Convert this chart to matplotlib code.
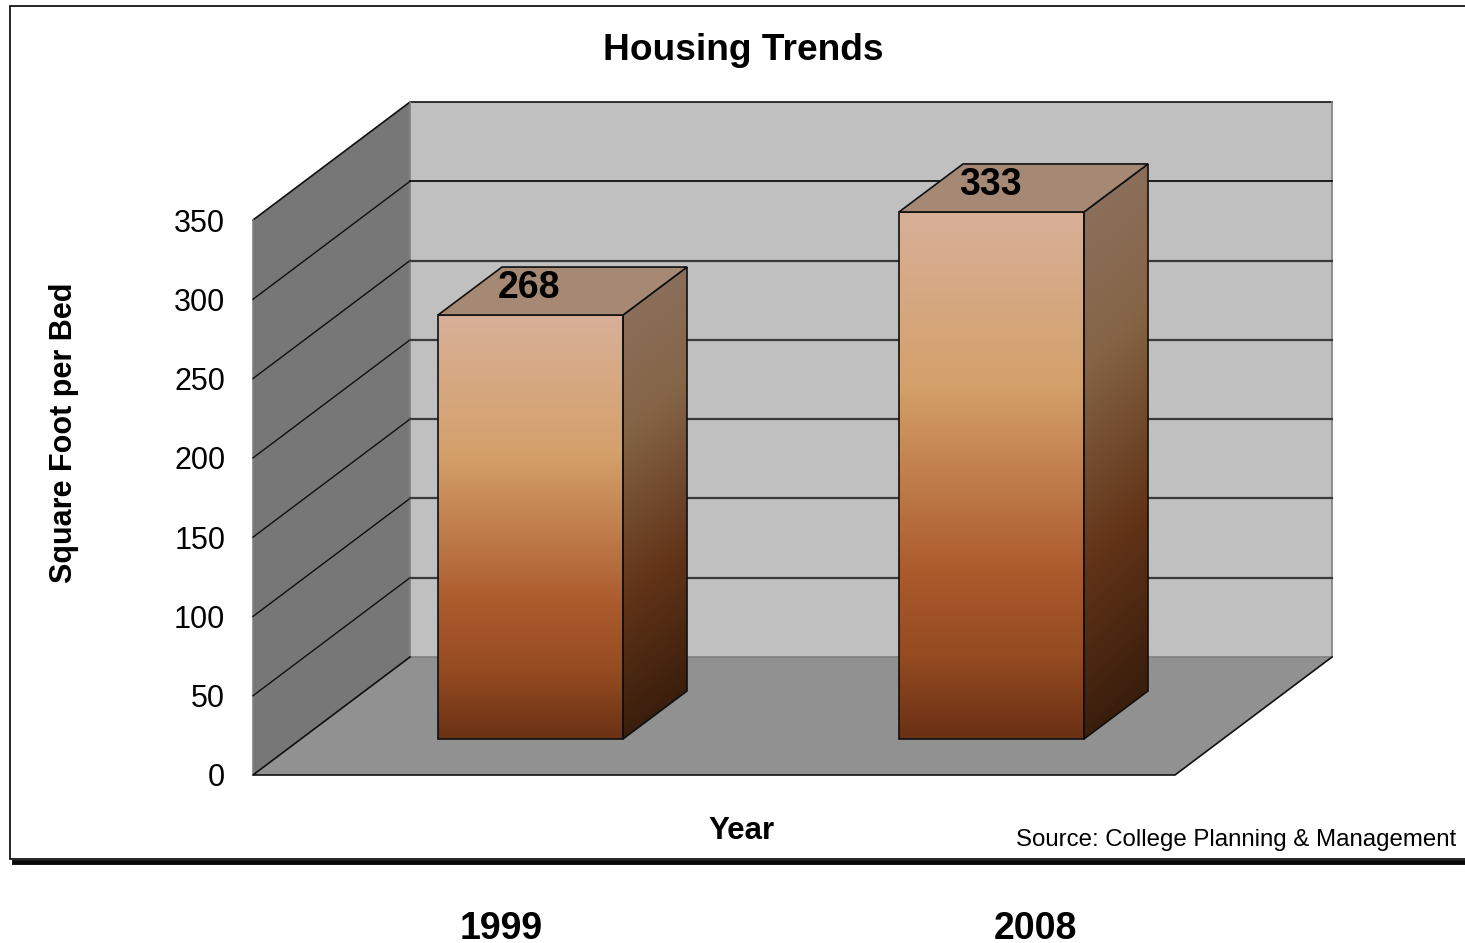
import numpy as np
import matplotlib
matplotlib.use('Agg')
import matplotlib.pyplot as plt
from matplotlib.patches import Polygon, Rectangle

plt.rcParams['font.family'] = ['Liberation Sans', 'DejaVu Sans']

years = ['1999', '2008']
values = [268, 333]
y_ticks = [0, 50, 100, 150, 200, 250, 300, 350]
title = 'Housing Trends'
x_title = 'Year'
y_title = 'Square Foot per Bed'
source = 'Source: College Planning & Management'

W, H = 1465, 943
# plot box in pixels, front plane of the 3d box
left, right, bottom, top = 253, 1175, 775, 220
sx = 2 / (right - left)
sy = 350 / (bottom - top)

# depth of the box and of the bars, in data units
box_dx, box_dy = 157 * sx, 118 * sy
bar_dx, bar_dy = 64 * sx, 48 * sy
off_dx, off_dy = 47 * sx, 36 * sy
bar_w = 185 * sx

front_stops = [(0, (106, 49, 21)), (0.16, (150, 75, 33)), (0.32, (172, 91, 45)),
               (0.67, (212, 160, 106)), (1, (216, 176, 152))]
side_stops = [(0, (58, 30, 12)), (0.3, (98, 52, 24)), (0.65, (133, 100, 70)),
              (1, (142, 115, 98))]


def gradient(stops, slant=0.0):
    # slant tilts the gradient so it gets darker to the right
    pos = [s[0] for s in stops]
    t = np.linspace(1, 0, 256)[:, None] - slant * np.linspace(0, 1, 32)[None, :]
    rows = [np.interp(t, pos, [s[1][i] for s in stops]) for i in range(3)]
    return np.stack(rows, axis=2) / 255


fig = plt.figure(figsize=(W / 100, H / 100), dpi=100, facecolor='white')
ax = fig.add_axes([left / W, 1 - bottom / H, (right - left) / W, (bottom - top) / H])
ax.patch.set_visible(False)
for s in ax.spines.values():
    s.set_visible(False)

# outer frame
fig.add_artist(Rectangle((10 / W, 1 - 859 / H), 1460 / W, 853 / H, transform=fig.transFigure,
                         fc='white', ec='black', lw=1.2, zorder=-5))
fig.add_artist(plt.Line2D([14 / W, 1], [1 - 862 / H] * 2, color='#080808', lw=3.5))

# walls and floor
ymax = y_ticks[-1]
ax.add_patch(Polygon([(box_dx, box_dy), (2 + box_dx, box_dy), (2 + box_dx, ymax + box_dy), (box_dx, ymax + box_dy)],
                     fc='#c0c0c0', ec='none', clip_on=False))
ax.add_patch(Polygon([(0, 0), (box_dx, box_dy), (box_dx, ymax + box_dy), (0, ymax)],
                     fc='#777777', ec='none', clip_on=False))
ax.add_patch(Polygon([(0, 0), (2, 0), (2 + box_dx, box_dy), (box_dx, box_dy)],
                     fc='#919191', ec='none', clip_on=False))
ax.plot([0, box_dx, 2 + box_dx], [ymax, ymax + box_dy, ymax + box_dy], color='#101010', lw=1.2, clip_on=False)
ax.plot([2 + box_dx, 2 + box_dx, box_dx, box_dx], [ymax + box_dy, box_dy, box_dy, ymax + box_dy],
        color='#808080', lw=1.2, clip_on=False)
ax.plot([0, 0], [0, ymax], color='#808080', lw=1.2, clip_on=False)
ax.plot([box_dx, 0, 2, 2 + box_dx], [box_dy, 0, 0, box_dy], color='#101010', lw=1.2, clip_on=False)

for v in y_ticks[1:-1]:
    # left wall lines are thin and black, back wall ones get greyer lower down
    ax.plot([0, box_dx], [v, v + box_dy], color='#101010', lw=1, clip_on=False, zorder=2)
    col, lw = ('#000000', 1.2) if v == 300 else ('#3a3a3a', 1.6)
    ax.plot([box_dx, 2 + box_dx], [v + box_dy, v + box_dy], color=col, lw=lw, clip_on=False, zorder=2)

# bars
for i, v in enumerate(values):
    x0 = i + 0.5 - bar_w / 2 + off_dx
    x1 = x0 + bar_w
    y0 = off_dy
    y1 = v * 1.0 + off_dy - 1 * sy

    im = ax.imshow(gradient(front_stops), extent=[x0, x1, y0, y1], aspect='auto', zorder=3)
    im.set_clip_on(False)
    ax.add_patch(Rectangle((x0, y0), bar_w, y1 - y0, fc='none', ec='#101010', lw=1.2, zorder=4, clip_on=False))

    side = Polygon([(x1, y0), (x1 + bar_dx, y0 + bar_dy), (x1 + bar_dx, y1 + bar_dy), (x1, y1)],
                   fc='none', ec='#101010', lw=1.2, zorder=4, clip_on=False)
    ax.add_patch(side)
    im2 = ax.imshow(gradient(side_stops, 0.1), extent=[x1, x1 + bar_dx, y0, y1 + bar_dy], aspect='auto', zorder=3)
    im2.set_clip_box(fig.bbox)
    im2.set_clip_path(Polygon(side.get_xy(), transform=ax.transData))

    ax.add_patch(Polygon([(x0, y1), (x1, y1), (x1 + bar_dx, y1 + bar_dy), (x0 + bar_dx, y1 + bar_dy)],
                         fc='#a58975', ec='#101010', lw=1.2, zorder=4, clip_on=False))
    ax.text((x0 + x1) / 2 - 1.5 * sx, y1 + bar_dy * 0.57, str(v), ha='center', va='center', fontsize=27,
            fontweight='bold', color='black', zorder=5)

ax.set_xlim(0, 2)
ax.set_ylim(0, 350)
ax.set_xticks([])
ax.set_yticks(y_ticks)
ax.tick_params(axis='y', length=0, pad=20, labelsize=22)

fig.text(743.5 / W, 1 - 51 / H, title, ha='center', va='center', fontsize=26.7, fontweight='bold')
fig.text(741 / W, 1 - 831 / H, x_title, ha='center', va='center', fontsize=22.5, fontweight='bold')
fig.text(64 / W, 1 - 433 / H, y_title, ha='center', va='center', rotation=90, fontsize=22, fontweight='bold')
fig.text(1456 / W, 1 - 840 / H, source, ha='right', va='center', fontsize=17.25)
for year, px in zip(years, [501, 1035]):
    fig.text(px / W, 1 - 929 / H, year, ha='center', va='center', fontsize=27, fontweight='bold')

fig.savefig('out.png', dpi=100)
